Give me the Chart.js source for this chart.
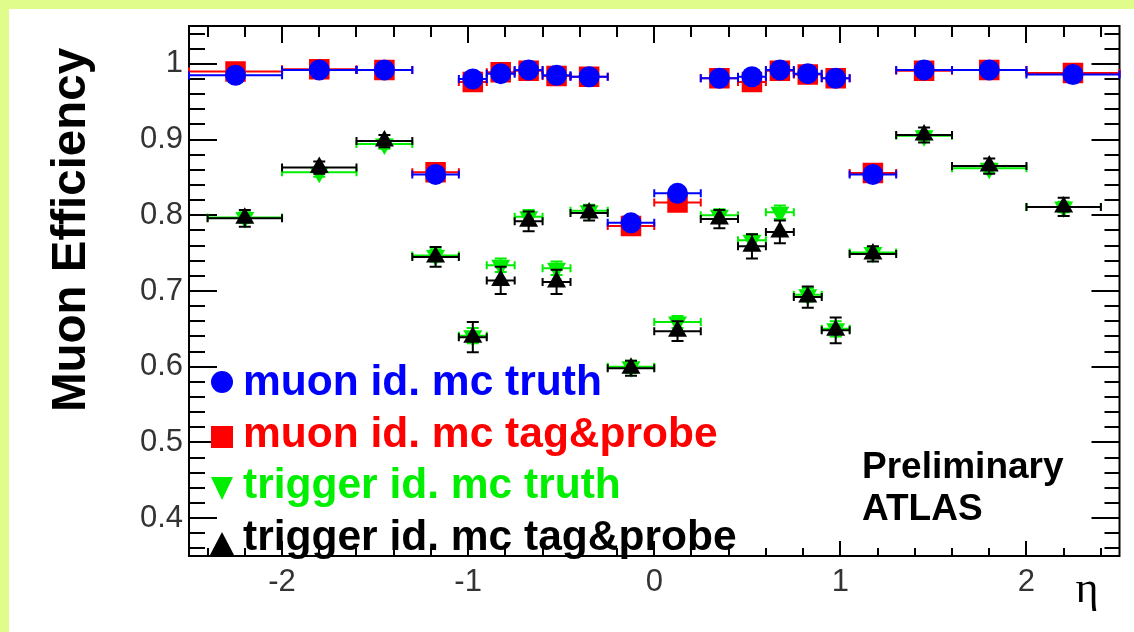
<!DOCTYPE html>
<html>
<head>
<meta charset="utf-8">
<title>Muon Efficiency vs eta</title>
<script src="https://cdn.jsdelivr.net/npm/chart.js@4.4.1/dist/chart.umd.min.js"></script>
<style>
  html, body { margin: 0; padding: 0; background: #ffffff; }
  #wrap { width: 1134px; height: 632px; position: relative; }
  canvas { display: block; }
</style>
</head>
<body>
<div id="wrap"><canvas id="c" width="1134" height="632"></canvas></div>
<script>
// ---- eta binning ----
const muonBinEdges = [-2.5, -2.0, -1.6, -1.3, -1.05, -0.9, -0.75, -0.6, -0.45, -0.25, 0,
                      0.25, 0.45, 0.6, 0.75, 0.9, 1.05, 1.3, 1.6, 2.0, 2.5];
const trigBinEdges = [-2.4, -2.0, -1.6, -1.3, -1.05, -0.9, -0.75, -0.6, -0.45, -0.25, 0,
                      0.25, 0.45, 0.6, 0.75, 0.9, 1.05, 1.3, 1.6, 2.0, 2.4];

// ---- efficiencies per bin ----
const muonTruth    = [0.985, 0.992, 0.992, 0.854, 0.980, 0.987, 0.992, 0.985, 0.983, 0.790,
                      0.829, 0.981, 0.983, 0.992, 0.987, 0.981, 0.854, 0.992, 0.992, 0.986];
const muonTruthErr = [0.003, 0.003, 0.003, 0.004, 0.004, 0.003, 0.003, 0.003, 0.003, 0.005,
                      0.005, 0.003, 0.003, 0.003, 0.003, 0.003, 0.004, 0.003, 0.003, 0.003];
const muonTP       = [0.990, 0.993, 0.992, 0.857, 0.976, 0.989, 0.991, 0.984, 0.983, 0.786,
                      0.817, 0.981, 0.976, 0.991, 0.986, 0.981, 0.856, 0.991, 0.992, 0.988];
const muonTPErr    = [0.003, 0.003, 0.003, 0.004, 0.004, 0.003, 0.003, 0.003, 0.003, 0.005,
                      0.005, 0.003, 0.003, 0.003, 0.003, 0.003, 0.004, 0.003, 0.003, 0.003];
const trigTruth    = [0.797, 0.857, 0.894, 0.747, 0.641, 0.734, 0.798, 0.730, 0.806, 0.600,
                      0.659, 0.800, 0.767, 0.804, 0.695, 0.650, 0.751, 0.905, 0.862, 0.811];
const trigTruthErr = [0.007, 0.006, 0.006, 0.008, 0.010, 0.009, 0.009, 0.009, 0.008, 0.008,
                      0.008, 0.008, 0.008, 0.009, 0.009, 0.010, 0.007, 0.006, 0.006, 0.007];
const trigTP       = [0.796, 0.863, 0.898, 0.745, 0.639, 0.714, 0.792, 0.712, 0.803, 0.598,
                      0.647, 0.795, 0.759, 0.778, 0.692, 0.648, 0.749, 0.906, 0.865, 0.811];
const trigTPErr    = [0.011, 0.008, 0.008, 0.013, 0.020, 0.018, 0.013, 0.016, 0.010, 0.010,
                      0.013, 0.012, 0.016, 0.015, 0.014, 0.017, 0.010, 0.010, 0.010, 0.012];

// ---- axis ticks ----
const xTickValues = [-2, -1, 0, 1, 2];
const xTickLabels = ['-2', '-1', '0', '1', '2'];
const yTickValues = [0.4, 0.5, 0.6, 0.7, 0.8, 0.9, 1.0];
const yTickLabels = ['0.4', '0.5', '0.6', '0.7', '0.8', '0.9', '1'];

// ---- legend ----
const legendLabels = ['muon id. mc truth', 'muon id. mc tag&probe',
                      'trigger id. mc truth', 'trigger id. mc tag&probe'];
const seriesColors = ['#0000ff', '#ff0000', '#00ee00', '#000000'];

function buildPoints(edges, values, errs) {
  return values.map((v, i) => ({
    x: (edges[i] + edges[i + 1]) / 2,
    y: v,
    xLow: edges[i],
    xHigh: edges[i + 1],
    err: errs[i]
  }));
}

// horizontal (bin width) and vertical (stat) error bars with end caps
const errorBars = {
  id: 'errorBars',
  beforeDatasetDraw(chart, args) {
    const ds = chart.data.datasets[args.index];
    const xs = chart.scales.x, ys = chart.scales.y;
    const ctx = chart.ctx;
    ctx.save();
    ctx.strokeStyle = ds.borderColor;
    ctx.lineWidth = 2;
    ds.data.forEach(p => {
      const px = xs.getPixelForValue(p.x), py = ys.getPixelForValue(p.y);
      const x0 = xs.getPixelForValue(p.xLow), x1 = xs.getPixelForValue(p.xHigh);
      const y0 = ys.getPixelForValue(p.y - p.err), y1 = ys.getPixelForValue(p.y + p.err);
      ctx.beginPath();
      ctx.moveTo(x0, py); ctx.lineTo(x1, py);
      ctx.moveTo(x0, py - 4); ctx.lineTo(x0, py + 4);
      ctx.moveTo(x1, py - 4); ctx.lineTo(x1, py + 4);
      ctx.moveTo(px, y0); ctx.lineTo(px, y1);
      ctx.moveTo(px - 6, y0); ctx.lineTo(px + 6, y0);
      ctx.moveTo(px - 6, y1); ctx.lineTo(px + 6, y1);
      ctx.stroke();
    });
    ctx.restore();
  }
};

// page background band, plot frame and inward ticks on all four sides
const frame = {
  id: 'frame',
  beforeDraw(chart) {
    const ctx = chart.ctx;
    ctx.save();
    ctx.fillStyle = '#e0fd8c';
    ctx.fillRect(0, 0, chart.width, 9);
    ctx.fillRect(0, 0, 9, chart.height);
    ctx.restore();
  },
  beforeDatasetsDraw(chart) {
    const ctx = chart.ctx, a = chart.chartArea;
    const xs = chart.scales.x, ys = chart.scales.y;
    ctx.save();
    ctx.strokeStyle = '#000';
    ctx.lineWidth = 2;
    ctx.strokeRect(a.left, a.top, a.right - a.left, a.bottom - a.top);
    ctx.beginPath();
    for (let i = 36; i <= 104; i += 2) {
      const v = i / 100;
      const py = Math.round(ys.getPixelForValue(v));
      const major = (i % 10 === 0);
      const lenL = major ? 28 : 16, lenR = major ? 28 : 15;
      ctx.moveTo(a.left, py); ctx.lineTo(a.left + lenL, py);
      ctx.moveTo(a.right, py); ctx.lineTo(a.right - lenR, py);
    }
    for (let i = -24; i <= 24; i += 2) {
      const px = Math.round(xs.getPixelForValue(i / 10));
      const major = (i % 10 === 0);
      const lenT = major ? 17 : 11, lenB = major ? 15 : 8;
      ctx.moveTo(px, a.top); ctx.lineTo(px, a.top + lenT);
      ctx.moveTo(px, a.bottom); ctx.lineTo(px, a.bottom - lenB);
    }
    ctx.stroke();
    ctx.restore();
  },
  afterDraw(chart) {
    const ctx = chart.ctx;
    ctx.save();
    // axis titles
    ctx.fillStyle = '#000';
    ctx.font = 'bold 47.5px "Liberation Sans", Arial, sans-serif';
    ctx.textAlign = 'center';
    ctx.textBaseline = 'alphabetic';
    ctx.translate(85, 230);
    ctx.rotate(-Math.PI / 2);
    ctx.fillText('Muon Efficiency', 0, 0);
    ctx.restore();

    ctx.save();
    ctx.fillStyle = '#000';
    ctx.font = '44px "Liberation Serif", "DejaVu Serif", serif';
    ctx.textAlign = 'center';
    ctx.fillText('\u03B7', 1087, 602);

    // experiment tag
    ctx.font = 'bold 37px "Liberation Sans", Arial, sans-serif';
    ctx.textAlign = 'left';
    ctx.fillText('Preliminary', 862, 478);
    ctx.fillText('ATLAS', 862, 520);

    // legend
    const rows = [395, 447, 498, 550];
    const mx = 222;
    ctx.font = 'bold 42.5px "Liberation Sans", Arial, sans-serif';
    legendLabels.forEach((t, i) => {
      ctx.fillStyle = seriesColors[i];
      ctx.fillText(t, 243, rows[i]);
    });
    // legend markers
    ctx.fillStyle = seriesColors[0];
    ctx.beginPath(); ctx.arc(mx, 382, 11, 0, Math.PI * 2); ctx.fill();
    ctx.fillStyle = seriesColors[1];
    ctx.fillRect(mx - 11, 426, 22, 22);
    ctx.fillStyle = seriesColors[2];
    ctx.beginPath(); ctx.moveTo(mx - 11, 477); ctx.lineTo(mx + 11, 477); ctx.lineTo(mx, 500); ctx.closePath(); ctx.fill();
    ctx.fillStyle = seriesColors[3];
    ctx.beginPath(); ctx.moveTo(mx, 532); ctx.lineTo(mx + 12, 555); ctx.lineTo(mx - 12, 555); ctx.closePath(); ctx.fill();
    ctx.restore();
  }
};

const tickFont = { family: '"Liberation Sans", Arial, sans-serif', size: 31 };

new Chart(document.getElementById('c'), {
  type: 'scatter',
  data: {
    datasets: [
      { label: legendLabels[0], data: buildPoints(muonBinEdges, muonTruth, muonTruthErr),
        pointStyle: 'circle', pointRadius: 10.5, backgroundColor: seriesColors[0], borderColor: seriesColors[0], borderWidth: 0 },
      { label: legendLabels[1], data: buildPoints(muonBinEdges, muonTP, muonTPErr),
        pointStyle: 'rect', pointRadius: 14.5, backgroundColor: seriesColors[1], borderColor: seriesColors[1], borderWidth: 0 },
      { label: legendLabels[3], data: buildPoints(trigBinEdges, trigTP, trigTPErr),
        pointStyle: 'triangle', pointRadius: 11, backgroundColor: seriesColors[3], borderColor: seriesColors[3], borderWidth: 0 },
      { label: legendLabels[2], data: buildPoints(trigBinEdges, trigTruth, trigTruthErr),
        pointStyle: 'triangle', rotation: 180, pointRadius: 11, backgroundColor: seriesColors[2], borderColor: seriesColors[2], borderWidth: 0 }
    ]
  },
  options: {
    responsive: false,
    devicePixelRatio: 1,
    animation: false,
    layout: { padding: { left: 0, top: 26, right: 14, bottom: 0 } },
    plugins: { legend: { display: false }, tooltip: { enabled: false }, title: { display: false } },
    elements: { point: { hoverRadius: 0 } },
    scales: {
      x: {
        type: 'linear', min: -2.5, max: 2.5,
        grid: { display: false, drawTicks: false },
        border: { display: false },
        afterBuildTicks: s => { s.ticks = xTickValues.map(v => ({ value: v })); },
        afterFit: s => { s.height = 76; },
        ticks: { font: tickFont, color: '#333', padding: 8, maxRotation: 0, autoSkip: false,
                 callback: (v, i) => xTickLabels[i] }
      },
      y: {
        type: 'linear', min: 0.35, max: 1.05,
        grid: { display: false, drawTicks: false },
        border: { display: false },
        afterBuildTicks: s => { s.ticks = yTickValues.map(v => ({ value: v })); },
        afterFit: s => { s.width = 189; },
        ticks: { font: tickFont, color: '#333', padding: 6, autoSkip: false,
                 callback: (v, i) => yTickLabels[i] }
      }
    }
  },
  plugins: [frame, errorBars]
});
</script>
</body>
</html>
